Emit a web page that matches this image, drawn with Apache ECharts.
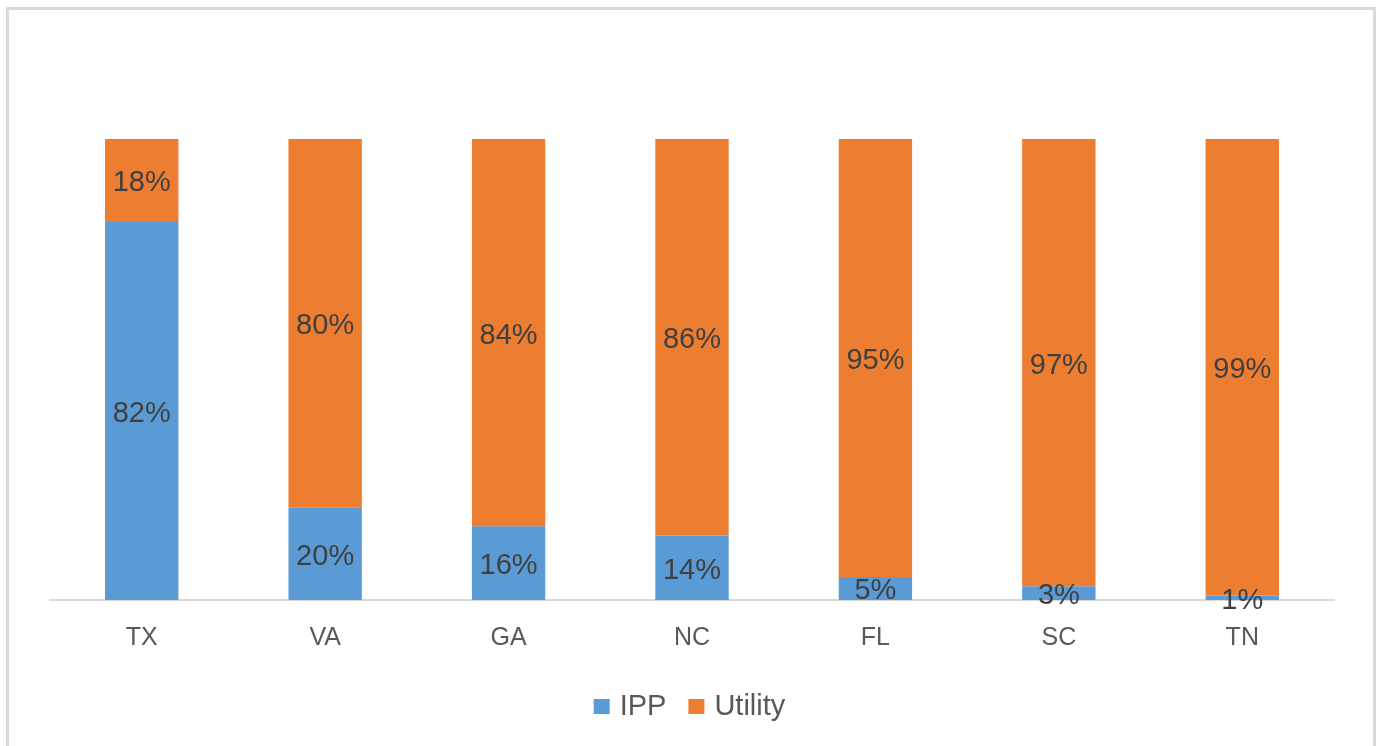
<!DOCTYPE html>
<html>
<head>
<meta charset="utf-8">
<script src="https://cdn.jsdelivr.net/npm/echarts@6/dist/echarts.min.js"></script>
<style>
  html, body { margin: 0; padding: 0; background: #fff; }
  #main { width: 1379px; height: 746px; }
</style>
</head>
<body>
<div id="main"></div>
<script>
var chartDom = document.getElementById('main');
var myChart = echarts.init(chartDom);
var option;

const states = ['TX', 'VA', 'GA', 'NC', 'FL', 'SC', 'TN'];
const ippShare = [82, 20, 16, 14, 5, 3, 1];
const utilityShare = [18, 80, 84, 86, 95, 97, 99];

const ippColor = '#5b9bd5';
const utilityColor = '#ed7d31';
const textFont = '"Liberation Sans", Arial, sans-serif';

function barLabel() {
  return {
    show: true,
    position: 'inside',
    formatter: '{c}%',
    color: '#404040',
    fontSize: 29,
    fontFamily: textFont,
    offset: [0, 3]
  };
}

option = {
  animation: false,
  graphic: [
    {
      type: 'rect',
      shape: { x: 7.5, y: 8.5, width: 1367, height: 800 },
      style: { fill: 'none', stroke: '#d9d9d9', lineWidth: 3 },
      silent: true
    }
  ],
  grid: {
    left: 50,
    right: 45,
    top: 139,
    bottom: 146
  },
  legend: {
    bottom: 20,
    left: 'center',
    itemWidth: 16,
    itemHeight: 15,
    itemGap: 22,
    icon: 'rect',
    textStyle: { color: '#595959', fontSize: 29, fontFamily: textFont, padding: [0, 0, 0, 5] },
    data: ['IPP', 'Utility']
  },
  xAxis: {
    type: 'category',
    data: states,
    axisLine: { lineStyle: { color: '#d9d9d9', width: 2 } },
    axisTick: { show: false },
    axisLabel: { color: '#595959', fontSize: 25, fontFamily: textFont, margin: 26 }
  },
  yAxis: {
    type: 'value',
    min: 0,
    max: 100,
    show: false,
    splitLine: { show: false }
  },
  series: [
    {
      name: 'IPP',
      type: 'bar',
      stack: 'share',
      barWidth: '40%',
      data: ippShare,
      itemStyle: { color: ippColor },
      label: barLabel()
    },
    {
      name: 'Utility',
      type: 'bar',
      stack: 'share',
      barWidth: '40%',
      data: utilityShare,
      itemStyle: { color: utilityColor },
      label: barLabel()
    }
  ]
};

option && myChart.setOption(option);
</script>
</body>
</html>
